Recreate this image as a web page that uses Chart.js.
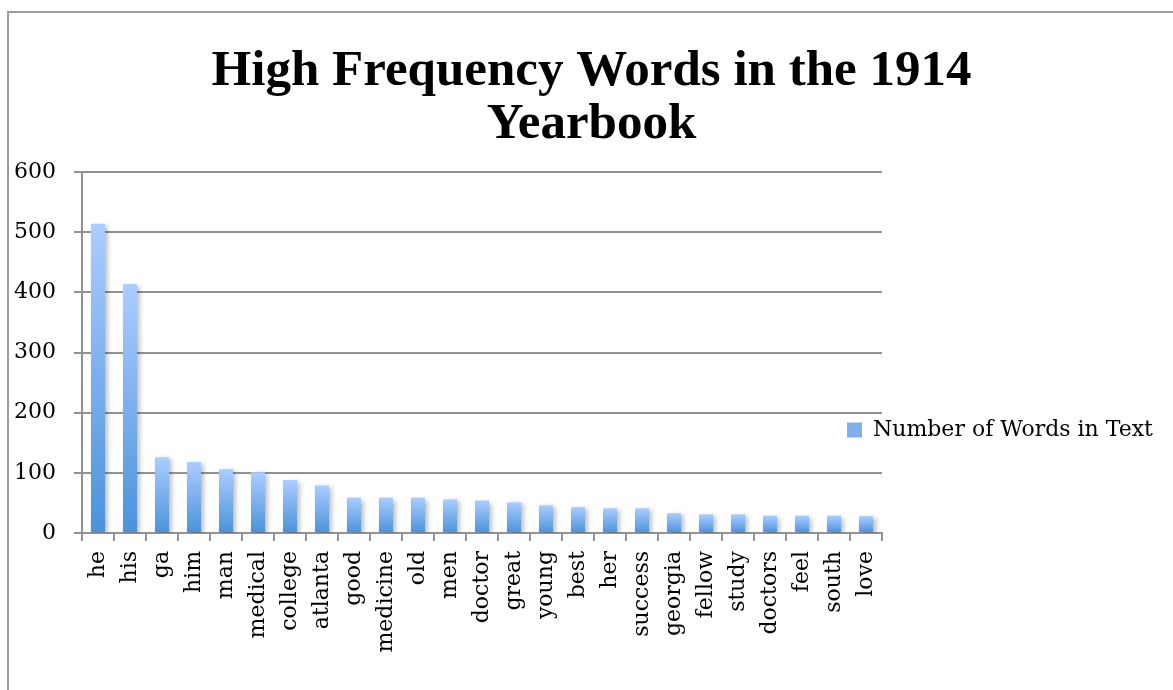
<!DOCTYPE html>
<html>
<head>
<meta charset="utf-8">
<title>High Frequency Words in the 1914 Yearbook</title>
<script src="https://cdn.jsdelivr.net/npm/chart.js@4.4.1/dist/chart.umd.min.js"></script>
<style>
  html, body { margin: 0; padding: 0; background: #fff; }
  #wrap { position: relative; width: 1173px; height: 690px; overflow: hidden; }
  #frame { position: absolute; left: 7px; top: 11px; right: -4px; bottom: -4px;
           border-top: 2px solid #9c9c9c; border-left: 2px solid #9c9c9c; }
  #wordChart { position: absolute; left: 0; top: 0; }
</style>
</head>
<body>
<div id="wrap">
  <div id="frame"></div>
  <canvas id="wordChart" width="1173" height="690"></canvas>
</div>
<script>
// Word counts from the 1914 yearbook text
const words = ['he', 'his', 'ga', 'him', 'man', 'medical', 'college', 'atlanta', 'good', 'medicine',
    'old', 'men', 'doctor', 'great', 'young', 'best', 'her', 'success', 'georgia', 'fellow',
    'study', 'doctors', 'feel', 'south', 'love'];
const counts = [514, 414, 126, 118, 106, 101, 88, 79, 59, 59,
    59, 56, 54, 51, 46, 43, 41, 41, 33, 31,
    31, 29, 29, 29, 28];
const seriesName = 'Number of Words in Text';
const titleLines = ['High Frequency Words in the 1914', 'Yearbook'];
const yMax = 600;
const yStep = 100;

const gridGray = '#929292';
const serif = "'DejaVu Serif', serif";

// each bar fades from light blue at the top to a deeper blue at the base
function barGradient(c) {
    const chart = c.chart;
    const y = chart.scales.y;
    if (!y || c.type !== 'data') return '#7fb0ea';
    const top = y.getPixelForValue(counts[c.dataIndex]);
    const base = y.getPixelForValue(0);
    if (!isFinite(top) || !isFinite(base) || top === base) return '#7fb0ea';
    const g = chart.ctx.createLinearGradient(0, top, 0, base);
    g.addColorStop(0, '#abcdff');
    g.addColorStop(1, '#4b92d9');
    return g;
}

// soft drop shadow behind the bars
const barShadow = {
    id: 'barShadow',
    beforeDatasetsDraw(chart) {
        const ctx = chart.ctx;
        ctx.save();
        ctx.shadowColor = 'rgba(0, 0, 0, 0.28)';
        ctx.shadowBlur = 5;
        ctx.shadowOffsetX = 3;
        ctx.shadowOffsetY = 2;
    },
    afterDatasetsDraw(chart) {
        chart.ctx.restore();
    }
};

// legend sits partly over the right end of the plot, like the spreadsheet version
const legendNudge = {
    id: 'legendNudge',
    afterLayout(chart) {
        const lg = chart.legend;
        if (!lg) return;
        lg.left -= 45;
        lg.top += 85;
        lg.bottom += 85;
    }
};

const ctx = document.getElementById('wordChart').getContext('2d');
const wordChart = new Chart(ctx, {
    type: 'bar',
    data: {
        labels: words,
        datasets: [{
            label: seriesName,
            data: counts,
            backgroundColor: barGradient,
            borderWidth: 0,
            barPercentage: 0.44,
            categoryPercentage: 1
        }]
    },
    options: {
        responsive: false,
        animation: false,
        layout: { padding: { left: 12, right: 2, top: 0, bottom: 0 } },
        plugins: {
            title: {
                display: true,
                text: titleLines,
                color: '#000',
                font: { family: "'Liberation Serif', serif", size: 51, weight: 'bold', lineHeight: 1.04 },
                padding: { top: 45, bottom: 21 }
            },
            legend: {
                position: 'right',
                maxWidth: 289,
                labels: {
                    color: '#000',
                    font: { family: serif, size: 22 },
                    boxWidth: 15,
                    boxHeight: 15,
                    padding: 10,
                    generateLabels() {
                        return [{ text: seriesName, fillStyle: '#7fb0ea', strokeStyle: '#7fb0ea', lineWidth: 0, datasetIndex: 0 }];
                    }
                }
            },
            tooltip: { enabled: false }
        },
        scales: {
            x: {
                grid: { display: true, drawOnChartArea: false, color: gridGray, lineWidth: 2, tickLength: 8, offset: true },
                border: { color: gridGray, width: 2 },
                ticks: {
                    color: '#000',
                    font: { family: serif, size: 22 },
                    minRotation: 90,
                    maxRotation: 90,
                    autoSkip: false,
                    padding: 10
                },
                afterFit(scale) { scale.height = 157; }
            },
            y: {
                min: 0,
                max: yMax,
                grid: { color: gridGray, lineWidth: 2, tickLength: 8 },
                border: { color: gridGray, width: 2 },
                ticks: {
                    stepSize: yStep,
                    color: '#000',
                    font: { family: serif, size: 22 },
                    padding: 18
                },
                afterFit(scale) { scale.width = 70; }
            }
        }
    },
    plugins: [barShadow, legendNudge]
});
</script>
</body>
</html>
